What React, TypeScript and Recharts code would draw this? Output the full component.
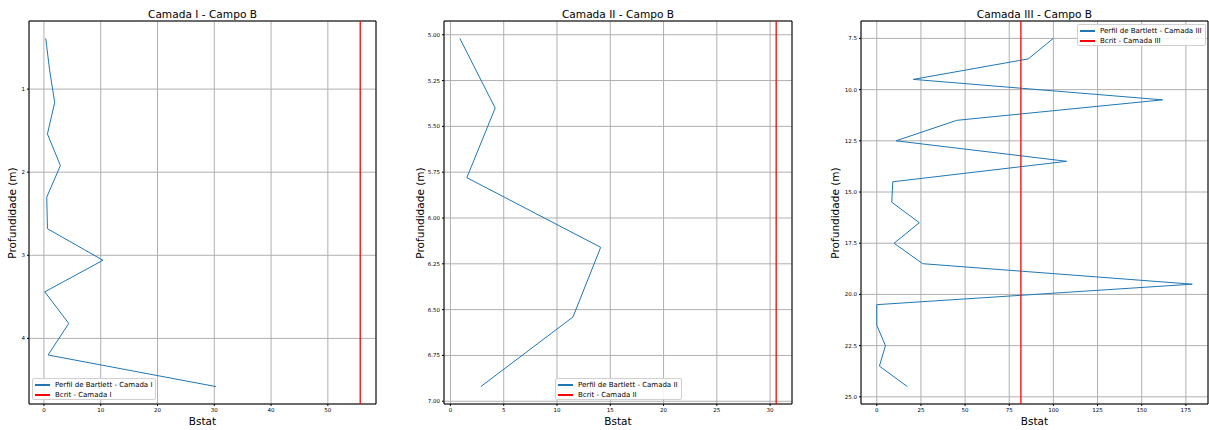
import { CartesianGrid, Line, LineChart, ReferenceArea, ReferenceLine, XAxis, YAxis } from 'recharts'

const FONT = '"DejaVu Sans", Verdana, sans-serif'

// Camada I
const DEPTH_I = [0.39, 0.78, 1.16, 1.54, 1.92, 2.3, 2.68, 3.06, 3.44, 3.82, 4.2, 4.58]
const BSTAT_I = [0.32, 1.02, 1.9, 0.62, 2.9, 0.5, 0.62, 10.4, 0.15, 4.37, 0.73, 30.3]
const BCRIT_I = 55.7
const XTICKS_I = [0, 10, 20, 30, 40, 50]
const YTICKS_I = [1, 2, 3, 4]

// Camada II
const DEPTH_II = [5.02, 5.4, 5.78, 6.16, 6.54, 6.92]
const BSTAT_II = [0.88, 4.2, 1.54, 14.1, 11.5, 2.85]
const BCRIT_II = 30.57
const XTICKS_II = [0, 5, 10, 15, 20, 25, 30]
const YTICKS_II = [5.0, 5.25, 5.5, 5.75, 6.0, 6.25, 6.5, 6.75, 7.0]

// Camada III
const DEPTH_III = [7.5, 8.5, 9.5, 10.5, 11.5, 12.5, 13.5, 14.5, 15.5, 16.5, 17.5, 18.5, 19.5, 20.5, 21.5, 22.5, 23.5, 24.5]
const BSTAT_III = [99.9, 85.8, 20.7, 161.8, 45.3, 10.9, 107.5, 9.05, 8.5, 24.1, 9.8, 26.0, 178.6, 0, 0, 4.9, 1.5, 17.3]
const BCRIT_III = 81.6
const XTICKS_III = [0, 25, 50, 75, 100, 125, 150, 175]
const YTICKS_III = [7.5, 10.0, 12.5, 15.0, 17.5, 20.0, 22.5, 25.0]

const H = 430
const AXIS_W = 20
const AXIS_H = 20

// matplotlib-style 5% autoscale margins
function pad(lo: number, hi: number): [number, number] {
  const m = (hi - lo) * 0.05
  return [lo - m, hi + m]
}

type PanelProps = {
  roman: string
  depth: number[]
  bstat: number[]
  bcrit: number
  xTicks: number[]
  yTicks: number[]
  yDecimals: number
  left: number
  width: number
  plot: { x0: number; x1: number; y0: number; y1: number }
  yLabelX: number
  legend: { left: number; top: number; width: number }
}

function Panel(p: PanelProps) {
  const data = p.depth.map((d, i) => ({ depth: d, bstat: p.bstat[i] }))
  const xd = pad(Math.min(...p.bstat, p.bcrit), Math.max(...p.bstat, p.bcrit))
  const yd = pad(Math.min(...p.depth), Math.max(...p.depth))
  const cx = (p.plot.x0 + p.plot.x1) / 2
  const cy = (p.plot.y0 + p.plot.y1) / 2
  const tick = { fontSize: 5.5, fill: '#000', fontFamily: FONT }

  return (
    <>
      <div style={{ position: 'absolute', left: p.left, top: 0 }}>
        {/* vertical layout already draws the numeric y axis top-down */}
        <LineChart
          width={p.width}
          height={H}
          layout="vertical"
          data={data}
          margin={{
            top: p.plot.y0,
            bottom: H - p.plot.y1 - AXIS_H,
            left: p.plot.x0 - p.left - AXIS_W,
            right: p.left + p.width - p.plot.x1,
          }}
        >
          <CartesianGrid stroke="#b0b0b0" strokeWidth={1} />
          <XAxis
            type="number"
            domain={xd}
            ticks={p.xTicks}
            allowDataOverflow
            height={AXIS_H}
            axisLine={false}
            tickSize={2}
            tickMargin={2}
            tickLine={{ stroke: '#000' }}
            tick={tick}
          />
          <YAxis
            type="number"
            dataKey="depth"
            domain={yd}
            ticks={p.yTicks}
            allowDataOverflow
            width={AXIS_W}
            axisLine={false}
            tickSize={2}
            tickMargin={2}
            tickLine={{ stroke: '#000' }}
            tick={tick}
            tickFormatter={(v: number) => v.toFixed(p.yDecimals)}
          />
          <Line
            dataKey="bstat"
            type="linear"
            stroke="#1f77b4"
            strokeWidth={1}
            dot={false}
            isAnimationActive={false}
          />
          <ReferenceLine x={p.bcrit} stroke="#ff0000" strokeWidth={1.3} ifOverflow="visible" />
          <ReferenceArea
            x1={xd[0]}
            x2={xd[1]}
            y1={yd[0]}
            y2={yd[1]}
            fill="none"
            stroke="#000"
            strokeWidth={1}
            ifOverflow="visible"
          />
        </LineChart>
      </div>

      <div style={{ position: 'absolute', left: cx - 100, width: 200, top: 8, textAlign: 'center', fontSize: 10.6, lineHeight: '12px' }}>
        Camada {p.roman} - Campo B
      </div>
      <div style={{ position: 'absolute', left: cx - 50, width: 100, top: 414.5, textAlign: 'center', fontSize: 10.5, lineHeight: '12px' }}>
        Bstat
      </div>
      <div
        style={{
          position: 'absolute',
          left: p.yLabelX - 60,
          top: cy - 6,
          width: 120,
          textAlign: 'center',
          fontSize: 10.5,
          lineHeight: '12px',
          transform: 'rotate(-90deg)',
        }}
      >
        Profundidade (m)
      </div>

      <div
        style={{
          position: 'absolute',
          left: p.legend.left,
          top: p.legend.top,
          width: p.legend.width,
          height: 22,
          boxSizing: 'border-box',
          background: 'rgba(255,255,255,0.85)',
          border: '1px solid #d0d0d0',
          borderRadius: 2,
          fontSize: 7,
          padding: '1px 0 0 2px',
        }}
      >
        {[
          { label: `Perfil de Bartlett - Camada ${p.roman}`, color: '#1f77b4' },
          { label: `Bcrit - Camada ${p.roman}`, color: '#ff0000' },
        ].map((it) => (
          <div key={it.label} style={{ display: 'flex', alignItems: 'center', height: 10, whiteSpace: 'nowrap' }}>
            <span style={{ display: 'inline-block', width: 15, height: 1.2, background: it.color, marginRight: 5 }} />
            <span>{it.label}</span>
          </div>
        ))}
      </div>
    </>
  )
}

export default function App() {
  return (
    <div
      style={{
        position: 'absolute',
        left: 0,
        top: 0,
        width: 1209,
        height: H,
        background: '#fff',
        fontFamily: FONT,
        color: '#000',
        overflow: 'hidden',
      }}
    >
      <Panel
        roman="I"
        depth={DEPTH_I}
        bstat={BSTAT_I}
        bcrit={BCRIT_I}
        xTicks={XTICKS_I}
        yTicks={YTICKS_I}
        yDecimals={0}
        left={0}
        width={400}
        plot={{ x0: 29, x1: 376, y0: 21, y1: 404 }}
        yLabelX={12}
        legend={{ left: 32, top: 378, width: 124 }}
      />
      <Panel
        roman="II"
        depth={DEPTH_II}
        bstat={BSTAT_II}
        bcrit={BCRIT_II}
        xTicks={XTICKS_II}
        yTicks={YTICKS_II}
        yDecimals={2}
        left={400}
        width={400}
        plot={{ x0: 444, x1: 792, y0: 21, y1: 404 }}
        yLabelX={420}
        legend={{ left: 555, top: 378, width: 127 }}
      />
      <Panel
        roman="III"
        depth={DEPTH_III}
        bstat={BSTAT_III}
        bcrit={BCRIT_III}
        xTicks={XTICKS_III}
        yTicks={YTICKS_III}
        yDecimals={1}
        left={800}
        width={409}
        plot={{ x0: 861, x1: 1208, y0: 21, y1: 404 }}
        yLabelX={835}
        legend={{ left: 1077, top: 24, width: 129 }}
      />
    </div>
  )
}
